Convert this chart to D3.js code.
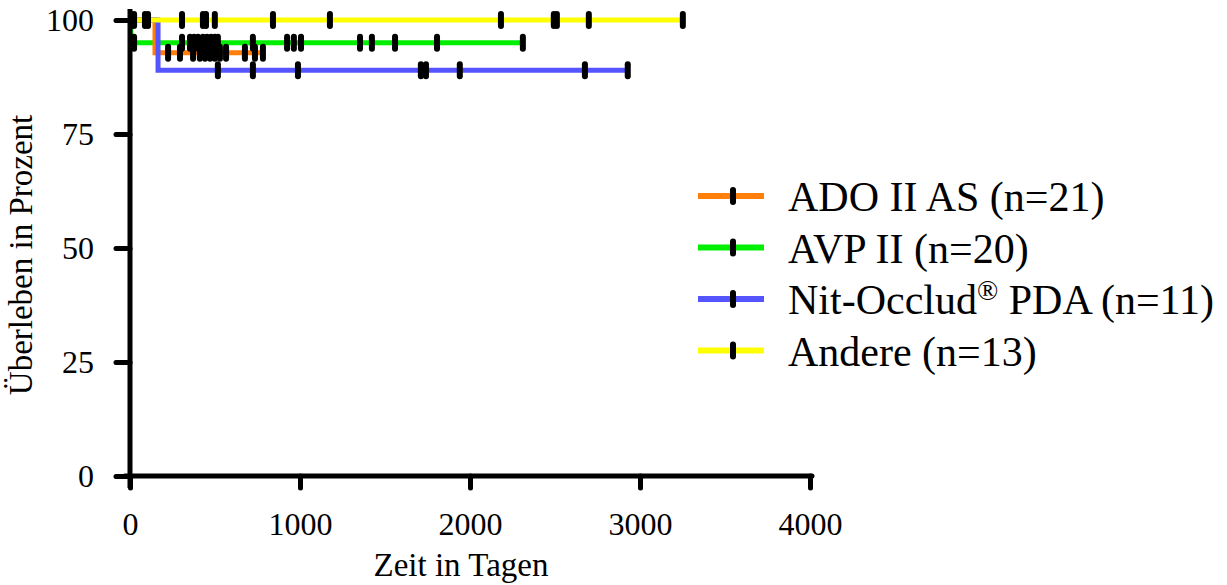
<!DOCTYPE html>
<html>
<head>
<meta charset="utf-8">
<script src="https://cdn.jsdelivr.net/npm/d3@7"></script>
<style>
  body { margin: 0; background: #fff; }
  text { font-family: "Liberation Serif", "Times New Roman", serif; fill: #000; }
</style>
</head>
<body>
<div id="chart"></div>
<script>
// Kaplan-Meier data (time in days, survival in percent)
const groupNames = ["ADO II AS (n=21)", "AVP II (n=20)", "Nit-Occlud® PDA (n=11)", "Andere (n=13)"];
const groupColors = ["#ff7f0a", "#00ee00", "#5555ff", "#ffff00"];

// steps: [time, survival after that time]; last entry marks end of follow up
const adoSteps = [[0, 100], [147, 92.8], [782, 92.8]];
const avpSteps = [[0, 100], [5, 95], [2311, 95]];
const nitSteps = [[0, 100], [165, 89], [2928, 89]];
const andereSteps = [[0, 100], [3252, 100]];

// censored times
const adoCensored = [224, 294, 371, 411, 441, 471, 499, 529, 565, 676, 735, 782];
const avpCensored = [24, 306, 353, 377, 400, 429, 453, 477, 499, 517, 723, 924, 964, 1006, 1353, 1423, 1559, 1806, 2311];
const nitCensored = [517, 723, 988, 1711, 1741, 1940, 2676, 2928];
const andereCensored = [6, 24, 88, 106, 306, 429, 447, 499, 841, 1176, 2182, 2493, 2511, 2699, 3252];

const xTicks = [0, 1000, 2000, 3000, 4000];
const yTicks = [0, 25, 50, 75, 100];

const svgWidth = 1227, svgHeight = 585;

// drawing order: green under orange under blue under yellow
const series = [
  { name: groupNames[1], color: groupColors[1], steps: avpSteps, censored: avpCensored },
  { name: groupNames[0], color: groupColors[0], steps: adoSteps, censored: adoCensored },
  { name: groupNames[2], color: groupColors[2], steps: nitSteps, censored: nitCensored },
  { name: groupNames[3], color: groupColors[3], steps: andereSteps, censored: andereCensored }
];

function survivalAt(steps, t) {
  let v = steps[0][1];
  steps.forEach(s => { if (s[0] <= t) v = s[1]; });
  return v;
}

function createChart() {
  const svg = d3.select("#chart")
    .append("svg")
    .attr("width", svgWidth)
    .attr("height", svgHeight);

  const xScale = d3.scaleLinear().domain([0, 4000]).range([130, 810]);
  const yScale = d3.scaleLinear().domain([0, 100]).range([476, 20]);

  // curves
  const line = d3.line()
    .x(d => xScale(d[0]))
    .y(d => yScale(d[1]))
    .curve(d3.curveStepAfter);

  series.forEach(s => {
    svg.append("path")
      .attr("d", line(s.steps))
      .attr("fill", "none")
      .attr("stroke", s.color)
      .attr("stroke-width", 5);
  });

  // censor marks
  series.forEach(s => {
    svg.selectAll(null)
      .data(s.censored)
      .enter()
      .append("line")
      .attr("x1", d => xScale(d))
      .attr("x2", d => xScale(d))
      .attr("y1", d => yScale(survivalAt(s.steps, d)) - 6)
      .attr("y2", d => yScale(survivalAt(s.steps, d)) + 6)
      .attr("stroke", "#000")
      .attr("stroke-width", 6)
      .attr("stroke-linecap", "round");
  });

  // y axis
  const yAxis = svg.append("g")
    .attr("transform", `translate(${xScale(0)},0)`)
    .call(d3.axisLeft(yScale).tickValues(yTicks).tickSize(14).tickPadding(22));
  yAxis.select(".domain").remove();
  yAxis.append("line")
    .attr("x1", 0).attr("x2", 0)
    .attr("y1", 9).attr("y2", yScale(0) + 12)
    .attr("stroke", "#000").attr("stroke-width", 5);
  yAxis.selectAll(".tick line").attr("stroke", "#000").attr("stroke-width", 5).attr("stroke-linecap", "round");
  yAxis.selectAll(".tick text")
    .style("font-family", "'Liberation Serif', serif")
    .style("font-size", "32px")
    .attr("fill", "#000");

  // x axis
  const xAxis = svg.append("g")
    .attr("transform", `translate(0,${yScale(0)})`)
    .call(d3.axisBottom(xScale).tickValues(xTicks).tickFormat(d3.format("d")).tickSize(12).tickPadding(24));
  xAxis.select(".domain").remove();
  xAxis.append("line")
    .attr("x1", xScale(0) - 5).attr("x2", xScale(4000) + 2)
    .attr("y1", 0).attr("y2", 0)
    .attr("stroke", "#000").attr("stroke-width", 5).attr("stroke-linecap", "round");
  xAxis.selectAll(".tick line").attr("stroke", "#000").attr("stroke-width", 5).attr("stroke-linecap", "round");
  xAxis.selectAll(".tick text")
    .style("font-family", "'Liberation Serif', serif")
    .style("font-size", "32px")
    .attr("fill", "#000");

  // axis titles
  svg.append("text")
    .attr("x", 461)
    .attr("y", 576)
    .attr("text-anchor", "middle")
    .style("font-size", "33px")
    .text("Zeit in Tagen");

  svg.append("text")
    .attr("transform", "translate(32,255) rotate(-90)")
    .attr("text-anchor", "middle")
    .style("font-size", "33px")
    .text("Überleben in Prozent");

  // legend
  const legend = svg.append("g");
  groupNames.forEach((name, i) => {
    const yRow = 196 + i * 51.5;
    legend.append("line")
      .attr("x1", 698).attr("x2", 764)
      .attr("y1", yRow).attr("y2", yRow)
      .attr("stroke", groupColors[i]).attr("stroke-width", 6);
    legend.append("line")
      .attr("x1", 733).attr("x2", 733)
      .attr("y1", yRow - 6).attr("y2", yRow + 6)
      .attr("stroke", "#000").attr("stroke-width", 6).attr("stroke-linecap", "round");
    const t = legend.append("text")
      .attr("x", 788)
      .attr("y", yRow + 15)
      .style("font-size", "42px");
    if (name.includes("®")) {
      const parts = name.split("®");
      t.append("tspan").text(parts[0]);
      t.append("tspan").attr("dy", -14).style("font-size", "28px").text("®");
      t.append("tspan").attr("dy", 14).text(parts[1]);
    } else {
      t.text(name);
    }
  });
}

createChart();
</script>
</body>
</html>
